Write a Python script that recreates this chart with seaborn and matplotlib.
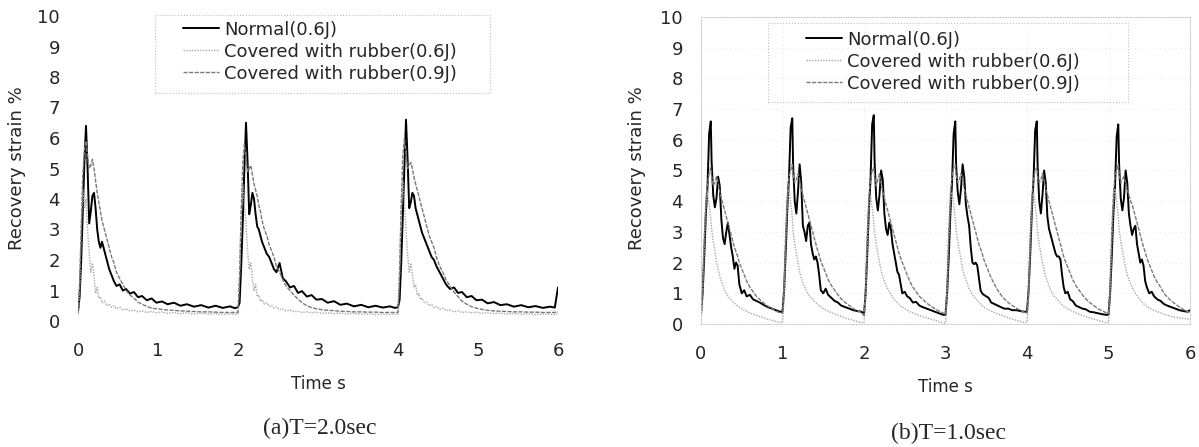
import numpy as np
import pandas as pd
import matplotlib
matplotlib.use("Agg")
import matplotlib.pyplot as plt
from matplotlib.patches import Rectangle
import seaborn as sns

sns.set_style("white")
plt.rcParams["font.family"] = ["DejaVu Sans"]

# ---------------- data ----------------
SERIES = ["Normal(0.6J)", "Covered with rubber(0.6J)", "Covered with rubber(0.9J)"]

# (a) T=2.0sec
a_time = [
    0.00, 0.02, 0.04, 0.06, 0.08, 0.10, 0.12, 0.14, 0.16, 0.18, 0.20, 0.22, 0.24, 0.26, 0.28,
    0.30, 0.33, 0.36, 0.39, 0.42, 0.45, 0.48, 0.52, 0.56, 0.60, 0.65, 0.70, 0.75, 0.80, 0.86,
    0.92, 0.98, 1.05, 1.12, 1.20, 1.28, 1.36, 1.45, 1.54, 1.63, 1.72, 1.81, 1.90, 1.96,
    2.00, 2.02, 2.04, 2.06, 2.08, 2.10, 2.12, 2.14, 2.16, 2.18, 2.20, 2.22, 2.24, 2.26, 2.28,
    2.30, 2.33, 2.36, 2.39, 2.42, 2.45, 2.48, 2.52, 2.56, 2.60, 2.65, 2.70, 2.75, 2.80, 2.86,
    2.92, 2.98, 3.05, 3.12, 3.20, 3.28, 3.36, 3.45, 3.54, 3.63, 3.72, 3.81, 3.90, 3.96,
    4.00, 4.02, 4.04, 4.06, 4.08, 4.10, 4.12, 4.14, 4.16, 4.18, 4.20, 4.22, 4.24, 4.26, 4.28,
    4.30, 4.33, 4.36, 4.39, 4.42, 4.45, 4.48, 4.52, 4.56, 4.60, 4.65, 4.70, 4.75, 4.80, 4.86,
    4.92, 4.98, 5.05, 5.12, 5.20, 5.28, 5.36, 5.45, 5.54, 5.63, 5.72, 5.81, 5.90, 5.96,
    6.00,
]
a_normal = [
    0.3, 0.8, 2.0, 3.6, 5.2, 6.4, 5.0, 3.2, 3.6, 4.1, 4.2, 3.7, 3.0, 2.6, 2.4,
    2.6, 2.3, 2.0, 1.7, 1.5, 1.3, 1.15, 1.2, 1.0, 1.05, 0.9, 0.95, 0.78, 0.82, 0.68,
    0.74, 0.6, 0.64, 0.55, 0.6, 0.5, 0.55, 0.47, 0.52, 0.44, 0.5, 0.43, 0.48, 0.42,
    0.45, 0.6, 1.8, 3.3, 5.0, 6.5, 5.2, 3.5, 3.8, 4.2, 4.0, 3.5, 3.1, 3.0, 2.8,
    2.6, 2.4, 2.2, 2.1, 1.9, 1.7, 1.6, 1.9, 1.4, 1.3, 1.1, 1.15, 0.92, 0.98, 0.8,
    0.85, 0.7, 0.72, 0.6, 0.65, 0.53, 0.57, 0.48, 0.53, 0.45, 0.5, 0.44, 0.48, 0.43,
    0.45, 0.7, 1.9, 3.5, 5.2, 6.6, 5.3, 3.7, 3.9, 4.2, 4.1, 3.7, 3.5, 3.3, 3.1,
    2.9, 2.7, 2.5, 2.3, 2.1, 2.0, 1.8, 1.6, 1.4, 1.2, 1.05, 1.1, 0.92, 0.95, 0.78,
    0.82, 0.68, 0.7, 0.58, 0.62, 0.52, 0.55, 0.47, 0.52, 0.45, 0.49, 0.43, 0.47, 0.44,
    1.1,
]
a_rub06 = [
    0.2, 1.0, 3.0, 4.3, 3.7, 4.0, 3.0, 2.2, 1.6, 1.9, 1.5, 0.9, 1.1, 0.75, 0.8,
    0.6, 0.65, 0.5, 0.55, 0.45, 0.5, 0.4, 0.45, 0.36, 0.4, 0.33, 0.36, 0.3, 0.33, 0.28,
    0.31, 0.27, 0.3, 0.25, 0.28, 0.24, 0.27, 0.23, 0.26, 0.22, 0.25, 0.21, 0.24, 0.22,
    0.23, 1.5, 3.5, 4.5, 3.8, 3.2, 2.3, 1.7, 1.9, 1.4, 1.0, 1.2, 0.8, 0.85, 0.65,
    0.7, 0.55, 0.6, 0.48, 0.52, 0.42, 0.46, 0.37, 0.4, 0.33, 0.36, 0.3, 0.32, 0.28, 0.3,
    0.27, 0.29, 0.25, 0.27, 0.24, 0.26, 0.23, 0.25, 0.22, 0.24, 0.21, 0.23, 0.22, 0.22,
    0.23, 1.6, 3.6, 4.6, 3.9, 3.0, 2.2, 1.6, 1.9, 1.5, 1.1, 1.2, 0.85, 0.9, 0.7,
    0.75, 0.6, 0.62, 0.5, 0.55, 0.43, 0.47, 0.38, 0.42, 0.34, 0.37, 0.3, 0.33, 0.28, 0.3,
    0.27, 0.29, 0.25, 0.27, 0.24, 0.26, 0.23, 0.25, 0.22, 0.24, 0.21, 0.23, 0.22, 0.21,
    0.25,
]
a_rub09 = [
    0.3, 1.2, 3.0, 4.8, 5.6, 5.9, 5.4, 5.0, 5.1, 5.3, 5.0, 4.6, 4.2, 3.9, 3.6,
    3.3, 3.0, 2.7, 2.4, 2.1, 1.9, 1.6, 1.4, 1.2, 1.0, 0.85, 0.75, 0.62, 0.55, 0.48,
    0.42, 0.4, 0.38, 0.36, 0.35, 0.33, 0.32, 0.31, 0.3, 0.3, 0.29, 0.28, 0.28, 0.28,
    0.28, 1.5, 3.6, 5.2, 5.8, 5.3, 4.9, 5.0, 5.1, 4.8, 4.5, 4.3, 4.1, 3.8, 3.6,
    3.3, 3.0, 2.8, 2.5, 2.3, 2.1, 1.8, 1.6, 1.35, 1.15, 1.0, 0.85, 0.72, 0.6, 0.5,
    0.44, 0.4, 0.37, 0.35, 0.34, 0.32, 0.31, 0.3, 0.3, 0.29, 0.29, 0.28, 0.28, 0.28,
    0.28, 1.6, 3.8, 5.4, 6.0, 5.5, 5.0, 5.1, 5.2, 5.0, 4.7, 4.5, 4.3, 4.1, 3.9,
    3.7, 3.4, 3.1, 2.8, 2.6, 2.4, 2.1, 1.8, 1.6, 1.35, 1.15, 0.95, 0.8, 0.65, 0.55,
    0.47, 0.42, 0.38, 0.35, 0.33, 0.32, 0.31, 0.3, 0.3, 0.29, 0.29, 0.28, 0.28, 0.28,
    0.3,
]

# (b) T=1.0sec
b_time = [
    0.00, 0.02, 0.04, 0.06, 0.08, 0.10, 0.12, 0.13, 0.15, 0.17, 0.19, 0.21, 0.23, 0.25, 0.27,
    0.29, 0.31, 0.33, 0.35, 0.37, 0.39, 0.41, 0.43, 0.45, 0.47, 0.50, 0.53, 0.56, 0.60, 0.64,
    0.68, 0.72, 0.77, 0.82, 0.87, 0.92, 0.97,
    1.00, 1.02, 1.04, 1.06, 1.08, 1.10, 1.12, 1.13, 1.15, 1.17, 1.19, 1.21, 1.23, 1.25, 1.27,
    1.29, 1.31, 1.33, 1.35, 1.37, 1.39, 1.41, 1.43, 1.45, 1.47, 1.50, 1.53, 1.56, 1.60, 1.64,
    1.68, 1.72, 1.77, 1.82, 1.87, 1.92, 1.97,
    2.00, 2.02, 2.04, 2.06, 2.08, 2.10, 2.12, 2.13, 2.15, 2.17, 2.19, 2.21, 2.23, 2.25, 2.27,
    2.29, 2.31, 2.33, 2.35, 2.37, 2.39, 2.41, 2.43, 2.45, 2.47, 2.50, 2.53, 2.56, 2.60, 2.64,
    2.68, 2.72, 2.77, 2.82, 2.87, 2.92, 2.97,
    3.00, 3.02, 3.04, 3.06, 3.08, 3.10, 3.12, 3.13, 3.15, 3.17, 3.19, 3.21, 3.23, 3.25, 3.27,
    3.29, 3.31, 3.33, 3.35, 3.37, 3.39, 3.41, 3.43, 3.45, 3.47, 3.50, 3.53, 3.56, 3.60, 3.64,
    3.68, 3.72, 3.77, 3.82, 3.87, 3.92, 3.97,
    4.00, 4.02, 4.04, 4.06, 4.08, 4.10, 4.12, 4.13, 4.15, 4.17, 4.19, 4.21, 4.23, 4.25, 4.27,
    4.29, 4.31, 4.33, 4.35, 4.37, 4.39, 4.41, 4.43, 4.45, 4.47, 4.50, 4.53, 4.56, 4.60, 4.64,
    4.68, 4.72, 4.77, 4.82, 4.87, 4.92, 4.97,
    5.00, 5.02, 5.04, 5.06, 5.08, 5.10, 5.12, 5.13, 5.15, 5.17, 5.19, 5.21, 5.23, 5.25, 5.27,
    5.29, 5.31, 5.33, 5.35, 5.37, 5.39, 5.41, 5.43, 5.45, 5.47, 5.50, 5.53, 5.56, 5.60, 5.64,
    5.68, 5.72, 5.77, 5.82, 5.87, 5.92, 5.97,
    6.00,
]
b_normal = [
    0.35, 1.0, 2.2, 3.6, 4.5, 6.2, 6.6, 5.3, 4.2, 3.8, 4.1, 4.8, 4.5, 3.4, 2.8,
    2.6, 3.0, 3.3, 2.9, 2.5, 2.2, 1.8, 2.0, 1.9, 1.3, 1.0, 1.1, 0.9, 0.95, 0.8,
    0.75, 0.7, 0.62, 0.55, 0.5, 0.45, 0.4,
    0.4, 1.1, 2.4, 3.8, 4.8, 6.4, 6.7, 5.2, 4.0, 3.6, 4.3, 5.2, 4.6, 3.2, 3.0,
    2.7, 3.2, 3.3, 2.6, 2.3, 2.1, 2.2, 2.0, 1.6, 1.1, 1.0, 1.15, 0.95, 0.85, 0.75,
    0.7, 0.6, 0.55, 0.5, 0.45, 0.42, 0.4,
    0.3, 1.0, 2.3, 3.7, 4.7, 6.5, 6.8, 5.3, 4.1, 3.7, 4.2, 5.0, 4.7, 3.6, 3.1,
    2.9, 3.3, 3.1, 2.6, 2.3, 2.0, 1.7, 1.6, 1.3, 1.0, 1.05, 0.9, 0.85, 0.7, 0.72,
    0.6, 0.55, 0.5, 0.45, 0.4, 0.35, 0.3,
    0.3, 1.0, 2.2, 3.6, 4.6, 6.2, 6.6, 5.2, 4.3, 3.9, 4.4, 5.2, 4.8, 3.9, 3.5,
    3.2, 2.5, 2.0, 1.95, 2.0, 1.9, 1.5, 1.1, 1.0, 0.95, 0.9, 0.85, 0.7, 0.65, 0.6,
    0.55, 0.5, 0.5, 0.45, 0.45, 0.42, 0.4,
    0.4, 1.1, 2.3, 3.7, 4.7, 6.3, 6.6, 5.2, 4.0, 3.6, 4.2, 5.0, 4.6, 3.5, 3.1,
    2.9, 2.7, 2.5, 2.3, 2.2, 2.2, 2.1, 1.6, 1.2, 1.0, 1.05, 0.8, 0.75, 0.6, 0.55,
    0.5, 0.48, 0.4, 0.38, 0.35, 0.32, 0.3,
    0.3, 1.0, 2.2, 3.6, 4.5, 6.1, 6.5, 5.2, 4.1, 3.7, 4.1, 5.0, 4.6, 3.6, 3.2,
    2.9, 3.1, 3.2, 2.6, 2.3, 2.0, 2.1, 1.9, 1.4, 1.2, 1.0, 1.05, 0.9, 0.8, 0.75,
    0.65, 0.6, 0.55, 0.5, 0.45, 0.42, 0.4,
    0.45,
]
b_rub06 = [
    0.05, 0.8, 2.5, 3.8, 4.3, 3.9, 3.4, 3.1, 2.7, 2.4, 2.0, 1.8, 1.55, 1.4, 1.25,
    1.1, 1.0, 0.9, 0.85, 0.78, 0.72, 0.68, 0.62, 0.6, 0.55, 0.5, 0.45, 0.42, 0.36, 0.32,
    0.28, 0.24, 0.2, 0.15, 0.12, 0.08, 0.05,
    0.05, 0.9, 2.6, 3.9, 4.4, 4.0, 3.5, 3.0, 2.6, 2.3, 2.0, 1.7, 1.5, 1.35, 1.2,
    1.1, 1.0, 0.92, 0.85, 0.8, 0.74, 0.7, 0.64, 0.6, 0.56, 0.5, 0.46, 0.42, 0.37, 0.33,
    0.28, 0.25, 0.2, 0.16, 0.12, 0.08, 0.05,
    0.05, 0.8, 2.4, 3.7, 4.2, 3.8, 3.3, 3.0, 2.6, 2.3, 2.0, 1.75, 1.55, 1.4, 1.25,
    1.15, 1.05, 0.95, 0.88, 0.8, 0.74, 0.7, 0.64, 0.58, 0.55, 0.5, 0.45, 0.4, 0.36, 0.32,
    0.28, 0.24, 0.2, 0.16, 0.12, 0.08, 0.03,
    0.03, 0.9, 2.6, 3.9, 4.3, 3.9, 3.4, 3.1, 2.7, 2.4, 2.1, 1.8, 1.6, 1.45, 1.3,
    1.15, 1.05, 0.95, 0.88, 0.82, 0.76, 0.7, 0.65, 0.6, 0.55, 0.5, 0.46, 0.42, 0.37, 0.33,
    0.29, 0.25, 0.2, 0.16, 0.12, 0.08, 0.05,
    0.05, 0.8, 2.5, 3.8, 4.3, 3.9, 3.4, 3.0, 2.6, 2.3, 2.0, 1.75, 1.55, 1.4, 1.25,
    1.1, 1.0, 0.92, 0.86, 0.8, 0.74, 0.68, 0.63, 0.58, 0.54, 0.5, 0.45, 0.41, 0.36, 0.32,
    0.28, 0.24, 0.2, 0.16, 0.12, 0.08, 0.04,
    0.04, 0.9, 2.6, 3.9, 4.4, 4.0, 3.5, 3.1, 2.7, 2.4, 2.1, 1.85, 1.6, 1.45, 1.3,
    1.2, 1.1, 1.0, 0.92, 0.85, 0.78, 0.72, 0.66, 0.62, 0.58, 0.52, 0.48, 0.44, 0.4, 0.36,
    0.32, 0.28, 0.25, 0.22, 0.2, 0.18, 0.16,
    0.15,
]
b_rub09 = [
    0.3, 1.2, 2.8, 4.0, 4.6, 4.9, 5.1, 4.8, 4.5, 4.6, 4.8, 4.6, 4.3, 4.1, 3.9,
    3.7, 3.5, 3.3, 3.1, 2.9, 2.7, 2.5, 2.35, 2.2, 2.0, 1.8, 1.6, 1.4, 1.2, 1.05,
    0.9, 0.8, 0.68, 0.58, 0.5, 0.42, 0.36,
    0.35, 1.3, 3.0, 4.2, 4.8, 5.0, 5.2, 4.9, 4.6, 4.7, 4.9, 4.7, 4.4, 4.2, 4.0,
    3.8, 3.6, 3.4, 3.2, 3.0, 2.8, 2.6, 2.4, 2.25, 2.05, 1.85, 1.65, 1.45, 1.25, 1.1,
    0.95, 0.82, 0.7, 0.6, 0.5, 0.43, 0.37,
    0.3, 1.2, 2.9, 4.1, 4.7, 5.0, 5.1, 4.8, 4.5, 4.7, 4.9, 4.6, 4.3, 4.1, 3.9,
    3.7, 3.5, 3.3, 3.1, 2.9, 2.7, 2.5, 2.3, 2.15, 2.0, 1.8, 1.6, 1.4, 1.2, 1.05,
    0.9, 0.8, 0.68, 0.58, 0.5, 0.42, 0.36,
    0.3, 1.3, 3.0, 4.2, 4.8, 5.1, 5.2, 4.9, 4.6, 4.7, 4.9, 4.7, 4.4, 4.2, 4.0,
    3.8, 3.6, 3.4, 3.2, 3.0, 2.8, 2.6, 2.45, 2.3, 2.1, 1.9, 1.7, 1.5, 1.3, 1.1,
    0.95, 0.82, 0.7, 0.6, 0.52, 0.44, 0.38,
    0.35, 1.2, 2.9, 4.1, 4.7, 5.0, 5.1, 4.8, 4.6, 4.7, 4.9, 4.7, 4.4, 4.2, 4.0,
    3.8, 3.6, 3.4, 3.2, 3.0, 2.8, 2.6, 2.4, 2.2, 2.05, 1.85, 1.65, 1.45, 1.25, 1.1,
    0.95, 0.82, 0.7, 0.6, 0.5, 0.43, 0.37,
    0.35, 1.3, 3.0, 4.2, 4.8, 5.0, 5.2, 4.9, 4.6, 4.7, 4.8, 4.6, 4.4, 4.2, 4.0,
    3.9, 3.7, 3.5, 3.3, 3.1, 2.9, 2.7, 2.5, 2.35, 2.15, 1.95, 1.75, 1.55, 1.35, 1.2,
    1.0, 0.88, 0.75, 0.65, 0.55, 0.47, 0.4,
    0.38,
]

y_ticks = [0, 1, 2, 3, 4, 5, 6, 7, 8, 9, 10]
x_ticks = [0, 1, 2, 3, 4, 5, 6]
captions = ["(a)T=2.0sec", "(b)T=1.0sec"]


def to_long(t, normal, rub06, rub09):
    frames = []
    for name, vals in zip(SERIES, [normal, rub06, rub09]):
        assert len(vals) == len(t), (name, len(vals), len(t))
        frames.append(pd.DataFrame({"time": t, "strain": vals, "series": name}))
    return pd.concat(frames, ignore_index=True)


df_a = to_long(a_time, a_normal, a_rub06, a_rub09)
df_b = to_long(b_time, b_normal, b_rub06, b_rub09)

palette = {SERIES[0]: "#000000", SERIES[1]: "#a8a8a8", SERIES[2]: "#7a7a7a"}
dashes = {SERIES[0]: "", SERIES[1]: (1, 1), SERIES[2]: (3, 1)}
sizes = {SERIES[0]: 1.4, SERIES[1]: 1.0, SERIES[2]: 1.0}

W, H = 1199, 447
fig = plt.figure(figsize=(W / 100, H / 100), dpi=100)


def px_axes(x0, x1, ytop, ybot):
    return fig.add_axes([x0 / W, 1 - ybot / H, (x1 - x0) / W, (ybot - ytop) / H])


ax_a = px_axes(78, 558, 16, 321)
ax_b = px_axes(701, 1190, 17, 324)

for ax, df, leg_anchor, box, cap_xy, ylab_x, cap in [
    (ax_a, df_a, (179, 17), (155, 15, 490, 93), (320, 428), 17, captions[0]),
    (ax_b, df_b, (802, 27), (768, 23, 1128, 102), (948, 433), 637, captions[1]),
]:
    sns.lineplot(data=df, x="time", y="strain", hue="series", style="series",
                 size="series", hue_order=SERIES, style_order=SERIES, size_order=SERIES,
                 palette=palette, dashes=dashes, sizes=sizes,
                 estimator=None, sort=False, ax=ax)
    ax.set_xlim(0, 6)
    ax.set_ylim(0, 10)
    ax.set_xticks(x_ticks)
    ax.set_yticks(y_ticks)
    ax.tick_params(axis="both", length=0, labelsize=13)
    ax.tick_params(axis="x", pad=15)
    ax.tick_params(axis="y", pad=13)
    ax.set_xlabel("Time s", fontsize=12, labelpad=11)
    ax.set_ylabel("")
    fig.text(ylab_x / W, 1 - 168 / H, "Recovery strain %", rotation=90,
             ha="center", va="center", fontsize=13)

    handles, labels = ax.get_legend_handles_labels()
    ax.legend(handles, labels, loc="upper left",
              bbox_to_anchor=(leg_anchor[0] / W, 1 - leg_anchor[1] / H),
              bbox_transform=fig.transFigure, frameon=False, fontsize=13,
              handlelength=2.0, handletextpad=0.3, labelspacing=0.22,
              borderpad=0.2, borderaxespad=0)
    bx0, by0, bx1, by1 = box
    fig.patches.append(Rectangle((bx0 / W, 1 - by1 / H), (bx1 - bx0) / W, (by1 - by0) / H,
                                 transform=fig.transFigure, fill=False,
                                 edgecolor="#c0c0c0", linestyle=":", linewidth=0.8))
    fig.text(cap_xy[0] / W, 1 - cap_xy[1] / H, cap,
             ha="center", va="center", fontsize=17, family="Liberation Serif")

for sp in ax_a.spines.values():
    sp.set_visible(False)
for sp in ax_b.spines.values():
    sp.set_visible(True)
    sp.set_linestyle(":")
    sp.set_color("#c8c8c8")
    sp.set_linewidth(0.7)
ax_b.grid(True, color="#dedede", linestyle=(0, (1, 4)), linewidth=0.6)
ax_b.set_axisbelow(True)

fig.savefig("out.png", dpi=100)
